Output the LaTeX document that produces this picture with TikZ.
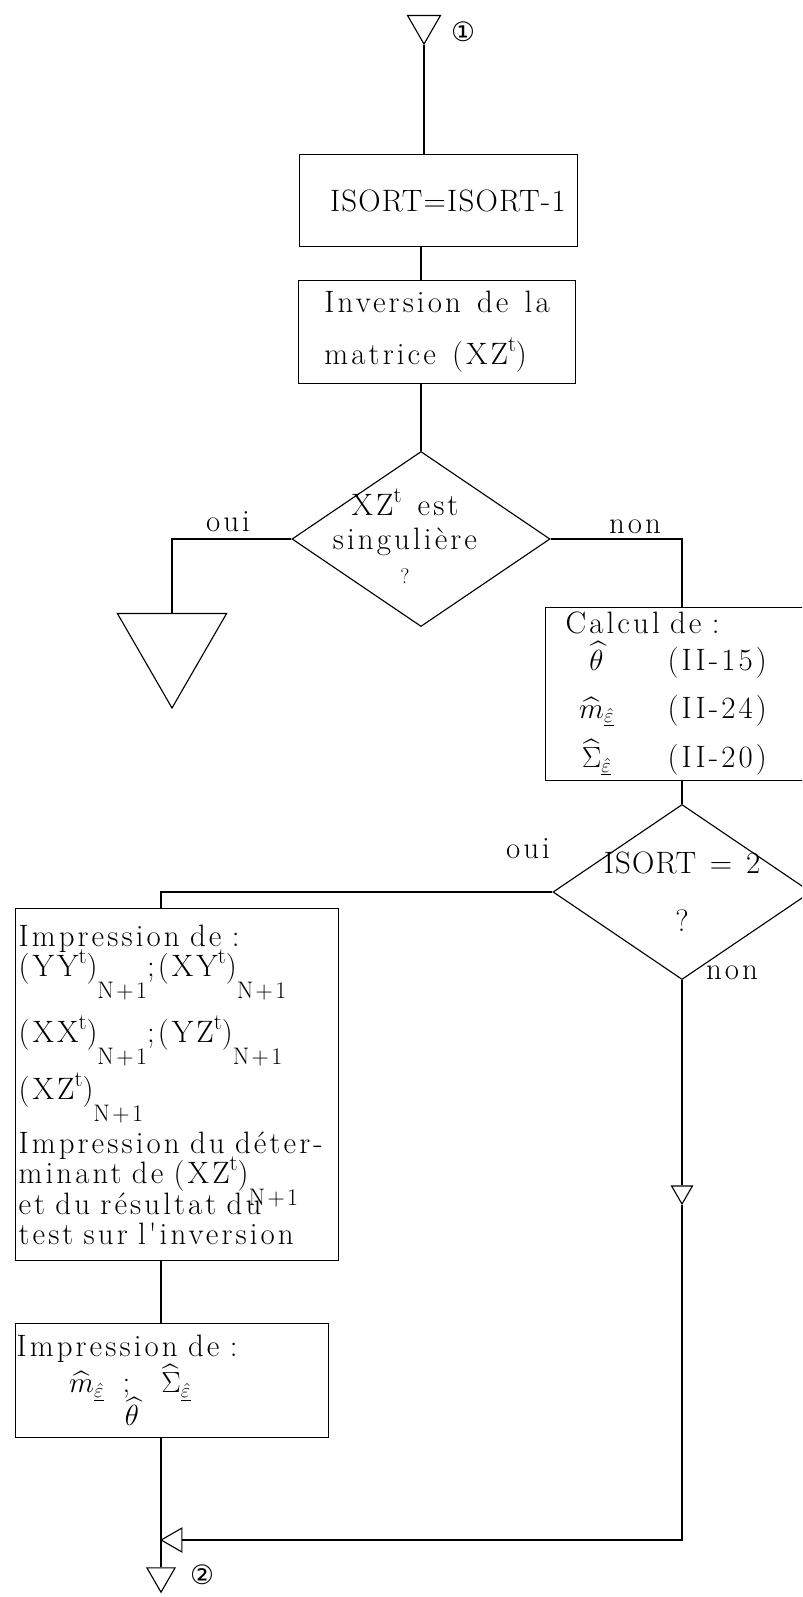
\documentclass[tikz,border=0pt]{standalone}
\usepackage{amsmath}
\usepackage{fontspec}
\usepackage{tikz}
\usetikzlibrary{shapes.geometric}
\newfontfamily\circfont{DejaVu Sans}
\newfontfamily\txtfam{lmroman17-regular}[Extension=.otf,LetterSpace=10,WordSpace=1.3]
\newfontfamily\capfam{lmroman17-regular}[Extension=.otf,LetterSpace=4,WordSpace=1.3]
\newcommand{\boxfont}[2]{\txtfam\fontsize{#1}{#2}\selectfont}
\newcommand{\tp}{\smash{\raisebox{.42em}{\fontsize{16}{16}\selectfont t}}}
\newcommand{\npu}{\smash{\raisebox{-.7em}{\fontsize{17}{17}\selectfont N+1}}}
\newcommand{\epsh}{\underline{\hat{\varepsilon}}}

\tikzset{
  box/.style={draw,anchor=north west,align=left,inner xsep=2pt,inner ysep=0pt},
  decision/.style={draw,diamond,minimum width=6.45cm,minimum height=4.375cm,inner sep=0pt},
  flowtri/.style={draw,regular polygon,regular polygon sides=3,inner sep=0pt},
  tag/.style={inner sep=0pt,font=\boxfont{22}{22}},
  circnum/.style={inner sep=0pt,font=\circfont\fontsize{19}{19}\selectfont}
}

\begin{document}
\begin{tikzpicture}[x=0.025cm,y=-0.025cm,line width=.8pt,font=\boxfont{22}{22}]
\useasboundingbox (0,0) rectangle (802,1597);
\clip (0,0) rectangle (802,1597);
\node[flowtri,shape border rotate=180,minimum size=.95cm] (in1) at (424,25) {};
\node[circnum] (c1) at (463,32) {①};
\node[box,align=center,minimum width=6.95cm,minimum height=2.3cm,font=\capfam\fontsize{22}{22}\selectfont] (isort) at (299,154) {\hspace*{.6em}ISORT=ISORT-1};
\node[box,align=left,minimum width=6.925cm,minimum height=2.575cm] (inv) at (298,280) {Inversion de la\\[15pt]matrice (XZ\tp)};
\node[decision,label={[align=center,xshift=-.4cm,font=\boxfont{22}{24}]center:{XZ\tp{} est\\singulière\\{\fontsize{15}{15}\selectfont ?}}}] (sing) at (421,539) {};
\node[flowtri,shape border rotate=180,minimum size=3.15cm] (stop) at (172,645) {};
\node[tag] (oui1) at (228,522) {oui};
\node[tag] (non1) at (635,527) {non};
\node[box,text width=5.475cm,inner xsep=.5cm,minimum height=4.325cm,font=\boxfont{22}{26}] (calc) at (545,607) {Calcul de :\\
\makebox[2em]{$\widehat{\theta}$}\hspace{1.3em}(II-15)\\[8pt]
\makebox[2em]{$\widehat{m}_{\epsh}$}\hspace{1.3em}(II-24)\\[8pt]
\makebox[2em]{$\widehat{\Sigma}_{\epsh}$}\hspace{1.3em}(II-20)};
\node[decision,label={[align=center,font=\capfam\fontsize{22}{41}\selectfont]center:{ISORT = 2\\?}}] (tst) at (682,892) {};
\node[tag] (oui2) at (528,849) {oui};
\node[tag] (non2) at (732,973) {non};
\node[box,text width=7.925cm,inner xsep=.075cm,minimum height=8.8cm,font=\boxfont{22}{21.5}] (impr) at (15,908) {Impression de :\\
(YY\tp)\npu;(XY\tp)\npu\\[24pt]
(XX\tp)\npu;(YZ\tp)\npu\\[17.5pt]
(XZ\tp)\npu\\[17pt]
Impression du déter-\\
minant de (XZ\tp)\npu\\
et du résultat du\\
test sur l'inversion};
\node[box,text width=7.775cm,inner xsep=.025cm,minimum height=2.85cm] (impr2) at (15,1323) {Impression de :\\[0pt]
\hspace*{1.7em}$\widehat{m}_{\epsh}$\hspace{.6em};\hspace{1em}$\widehat{\Sigma}_{\epsh}$\\[-4pt]
\hspace*{3.5em}$\widehat{\theta}$};
\node[flowtri,shape border rotate=180,minimum size=.6cm] (mk1) at (682,1192) {};
\node[flowtri,shape border rotate=90,minimum size=.69cm] (mrg) at (175,1540) {};
\node[flowtri,shape border rotate=180,minimum size=.81cm] (out2) at (161,1576) {};
\node[circnum] (c2) at (202,1575) {②};
\draw (in1.south) -- (in1.south |- isort.north);
\draw (isort.south -| sing.north) -- (inv.north -| sing.north);
\draw (inv.south -| sing.north) -- (sing.north);
\draw (sing.west) -| (stop.north);
\draw (sing.east) -| (calc.north -| tst.north);
\draw (calc.south -| tst.north) -- (tst.north);
\draw (tst.west) -| (impr.north -| out2.north);
\draw (impr.south -| out2.north) -- (impr2.north -| out2.north);
\draw (impr2.south -| out2.north) -- (out2.north);
\draw (tst.south) -- (mk1.north);
\draw (mk1.south) |- (mrg.east);
\end{tikzpicture}
\end{document}
